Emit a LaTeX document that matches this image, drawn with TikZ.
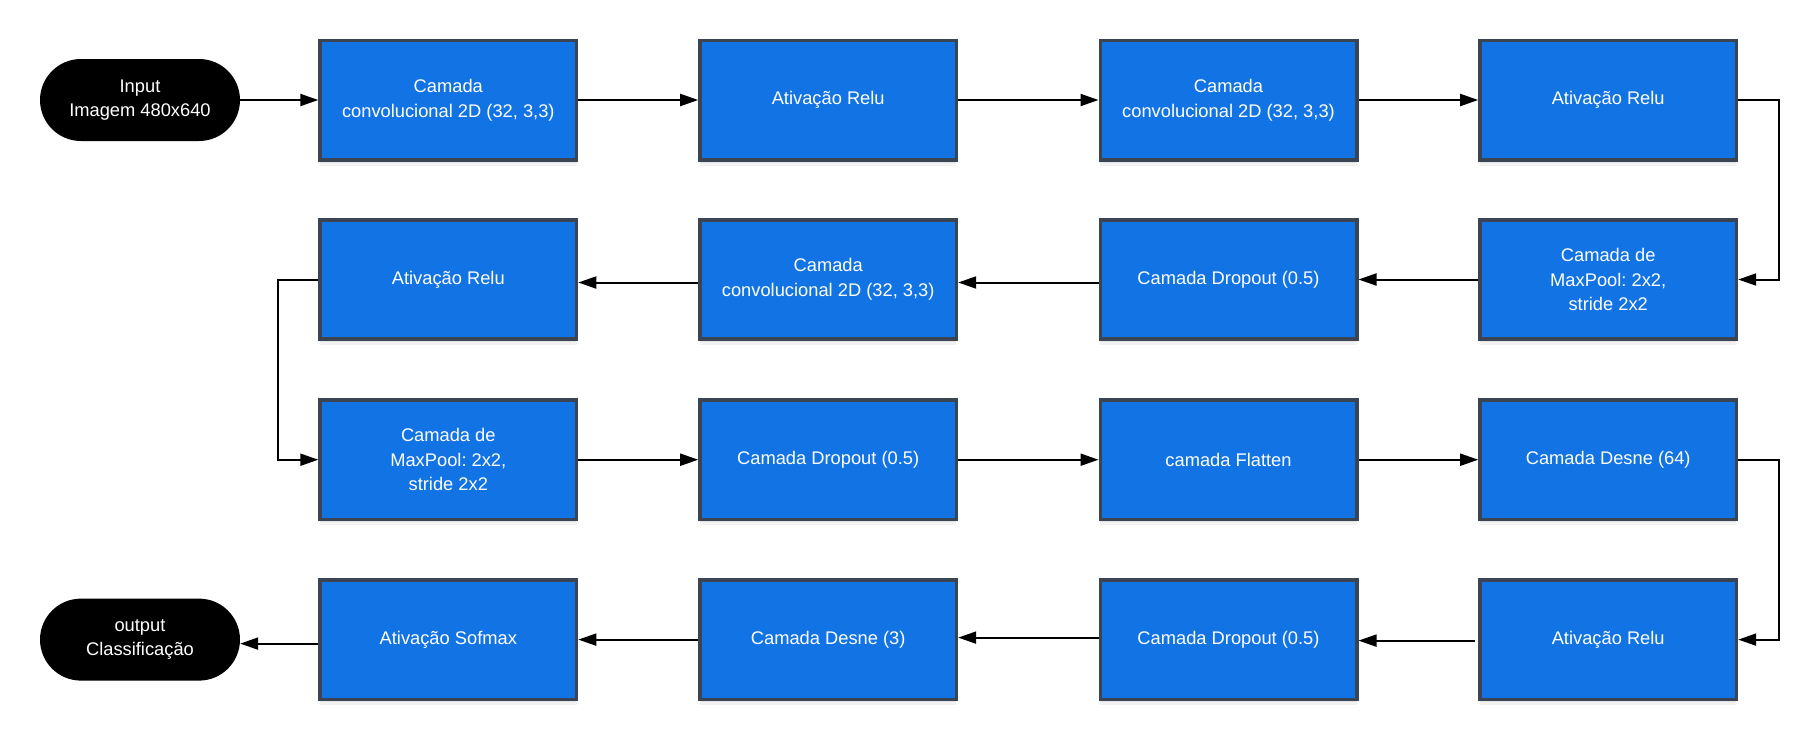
\documentclass[tikz,border=0pt]{standalone}
\usepackage{fontspec}
\setmainfont{Liberation Sans}
\usetikzlibrary{arrows.meta,shadows}
\definecolor{boxblue}{RGB}{18,115,229}
\definecolor{boxborder}{RGB}{59,68,82}
\frenchspacing
\begin{document}
\begin{tikzpicture}[x=1pt,y=-1pt,
  layer/.style={draw=boxborder, line width=3.6pt, fill=boxblue, text=white,
    minimum width=256.4pt, minimum height=119.4pt, align=center, inner sep=0pt,
    font=\fontsize{18.3}{24.6}\selectfont,
    general shadow={fill=black, opacity=0.05, shadow yshift=-6pt},
    general shadow={fill=black, opacity=0.06, shadow yshift=-3pt}},
  term/.style={fill=black, text=white, rounded corners=41pt,
    minimum width=200pt, minimum height=82pt, align=center, inner sep=0pt,
    font=\fontsize{18.3}{24.6}\selectfont},
  conn/.style={draw=black, line width=2pt, -{Triangle[length=18pt,width=12pt]}}]
\useasboundingbox (0,0) rectangle (1819,740);
% row 1
\node[term]  (in) at (140,100) {Input\\Imagem 480x640};
\node[layer] (c1) at (448.3,100) {Camada\\convolucional 2D (32, 3,3)};
\node[layer] (r1) at (828.2,100) {Ativação Relu};
\node[layer] (c2) at (1228.5,100) {Camada\\convolucional 2D (32, 3,3)};
\node[layer] (r2) at (1608.2,100) {Ativação Relu};
% row 2
\node[layer] (mp1) at (1608.2,279.5) {Camada de\\MaxPool: 2x2,\\stride 2x2};
\node[layer] (d1)  at (1228.5,279.5) {Camada Dropout (0.5)};
\node[layer] (c3)  at (828.2,279.5) {Camada\\convolucional 2D (32, 3,3)};
\node[layer] (r3)  at (448.3,279.5) {Ativação Relu};
% row 3
\node[layer] (mp2) at (448.3,459.7) {Camada de\\MaxPool: 2x2,\\stride 2x2};
\node[layer] (d2)  at (828.2,459.7) {Camada Dropout (0.5)};
\node[layer] (fl)  at (1228.5,459.7) {camada Flatten};
\node[layer] (de1) at (1608.2,459.7) {Camada Desne (64)};
% row 4
\node[layer] (r4)  at (1608.2,639.6) {Ativação Relu};
\node[layer] (d3)  at (1228.5,639.6) {Camada Dropout (0.5)};
\node[layer] (de2) at (828.2,639.6) {Camada Desne (3)};
\node[layer] (sm)  at (448.3,639.6) {Ativação Sofmax};
\node[term]  (out) at (140,639.6) {output\\Classificação};
% connectors
\draw[conn] (in.east) -- (c1.west);
\draw[conn] (c1.east) -- (r1.west);
\draw[conn] (r1.east) -- (c2.west);
\draw[conn] (c2.east) -- (r2.west);
\draw[conn] (r2.east) -- ++(41,0) |- (mp1.east);
\draw[conn] (mp1.west) -- (d1.east);
\draw[conn] ([yshift=-3pt]d1.west) -- ([yshift=-3pt]c3.east);
\draw[conn] ([yshift=-3pt]c3.west) -- ([yshift=-3pt]r3.east);
\draw[conn] (r3.west) -- ++(-40,0) |- (mp2.west);
\draw[conn] (mp2.east) -- (d2.west);
\draw[conn] (d2.east) -- (fl.west);
\draw[conn] (fl.east) -- (de1.west);
\draw[conn] (de1.east) -- ++(41,0) |- (r4.east);
\draw[conn] ([xshift=-3pt,yshift=-1pt]r4.west) -- ([yshift=-1pt]d3.east);
\draw[conn] ([yshift=2pt]d3.west) -- ([yshift=2pt]de2.east);
\draw[conn] (de2.west) -- (sm.east);
\draw[conn] ([yshift=-4pt]sm.west) -- ([yshift=-4pt]out.east);
\end{tikzpicture}
\end{document}
